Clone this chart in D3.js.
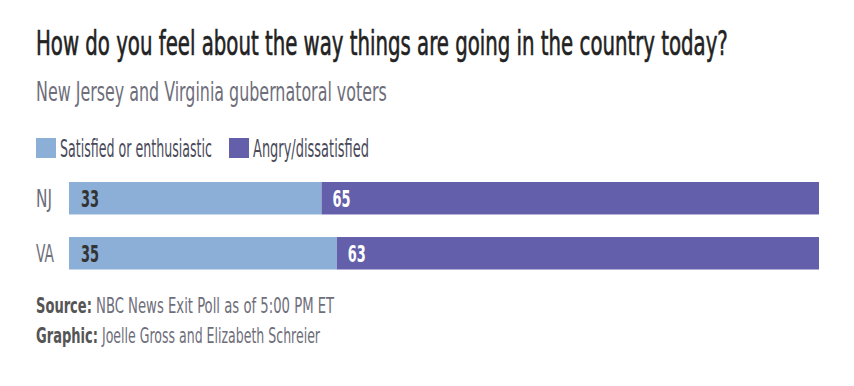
<!DOCTYPE html>
<html><head><meta charset="utf-8">
<script src="https://cdn.jsdelivr.net/npm/d3@7"></script>
<style>
html,body{margin:0;padding:0;background:#fff;}
svg text{font-family:"DejaVu Sans Condensed","DejaVu Sans","Liberation Sans Narrow",sans-serif;font-stretch:condensed;}
</style></head>
<body><svg id="c" width="854" height="386"></svg>
<script>
const categories = ["NJ", "VA"];
const seriesNames = ["Satisfied or enthusiastic", "Angry/dissatisfied"];
const satisfied = [33, 35];
const angry = [65, 63];
const colors = ["#8cafd7", "#635faa"];

const svg = d3.select("#c");
// draw text and squeeze it horizontally to the measured reference width
function txt(parent, x, y, size, weight, color, s, w) {
  const t = parent.append("text").attr("font-size", size).attr("font-weight", weight).attr("fill", color).text(s);
  const nat = t.node().getBBox().width;
  t.attr("transform", `translate(${x},${y}) scale(${w / nat},1)`);
  return t;
}

txt(svg, 36, 55, 33, "normal", "#222", "How do you feel about the way things are going in the country today?", 692)
  .attr("stroke", "#222").attr("stroke-width", 0.6);
txt(svg, 36, 101, 26, "normal", "#6e6e7a", "New Jersey and Virginia gubernatoral voters", 351);

// legend
const legX = [36, 229], legW = [152, 116];
seriesNames.forEach((n, i) => {
  svg.append("rect").attr("x", legX[i]).attr("y", 138).attr("width", 20).attr("height", 20).attr("fill", colors[i]);
  txt(svg, legX[i] + 24, 157, 25, "normal", "#4a4a5a", n, legW[i]);
});

const x = d3.scaleLinear().domain([0, d3.max(categories, (c, i) => satisfied[i] + angry[i])]).range([69, 819]);
const y = d3.scaleBand().domain(categories).range([182, 269.5]).paddingInner(0.41).paddingOuter(0);

const rows = categories.map((c, i) => ({c, s: satisfied[i], a: angry[i]}));
const g = svg.append("g");
rows.forEach(r => {
  g.append("rect").attr("x", x(0)).attr("y", y(r.c)).attr("width", x(r.s) - x(0)).attr("height", y.bandwidth()).attr("fill", colors[0]);
  g.append("rect").attr("x", x(r.s)).attr("y", y(r.c)).attr("width", x(r.s + r.a) - x(r.s)).attr("height", y.bandwidth()).attr("fill", colors[1]);
  const by = y(r.c) + y.bandwidth() / 2 + 9;
  txt(g, 36, by, 24, "normal", "#6e6e7a", r.c, r.c === "NJ" ? 16 : 18);
  txt(g, x(0) + 12, by, 23, "bold", "#333", String(r.s), 18);
  txt(g, x(r.s) + 11, by, 23, "bold", "#fff", String(r.a), 18);
});

// footer
const foot = [["Source:", "NBC News Exit Poll as of 5:00 PM ET", 313, 56, 239], ["Graphic:", "Joelle Gross and Elizabeth Schreier", 343, 62, 220]];
foot.forEach(([b, t, yy, bw, tw]) => {
  txt(svg, 36, yy, 22, "bold", "#555", b, bw);
  txt(svg, 36 + bw + 4, yy, 22, "normal", "#6e6e7a", t, tw);
});
</script></body></html>
